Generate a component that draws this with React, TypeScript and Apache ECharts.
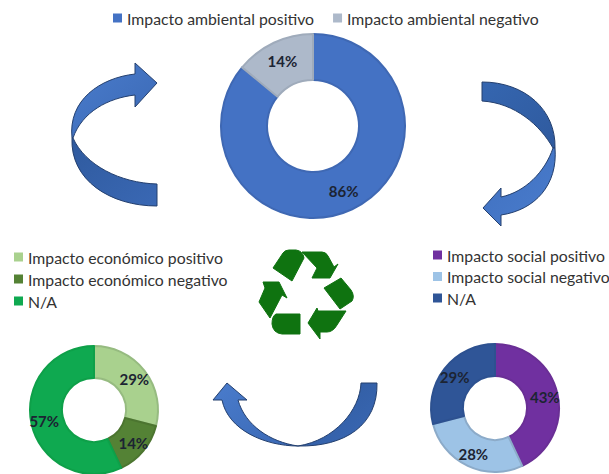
import React, { useEffect, useRef } from "react";
import * as echarts from "echarts";

const FONT = "Lato, sans-serif";

const envNames = ["Impacto ambiental positivo", "Impacto ambiental negativo"];
const envValues = [86, 14];
const envColors = ["#4472c4", "#adb9ca"];
const envEdges = ["#3f68b3", "#9fabbb"];

const ecoNames = ["Impacto económico positivo", "Impacto económico negativo", "N/A"];
const ecoValues = [29, 14, 57];
const ecoColors = ["#a9d18e", "#548235", "#0fa950"];
const ecoEdges = ["#96bb80", "#4c7530", "#0ea049"];

const socNames = ["Impacto social positivo", "Impacto social negativo", "N/A"];
const socValues = [43, 28, 29];
const socColors = ["#7030a0", "#9dc3e6", "#2f5597"];
const socEdges = ["#6a2f95", "#8cabc9", "#2d5190"];

const ARROWS: [string, string, string, string][] = [
  ["aL1", "M72,138 C68,100 100,78 135,74 L135,63 L157,83 L135,107 L135,95 C108,98 82,112 73,138 Z", "#4a7ccc", "#3a68b4"],
  ["aL2", "M73,138 C85,165 120,183 157,184 L157,206 C110,206 70,180 72,138 Z", "#2f5a9e", "#3a68b4"],
  ["aR1", "M482,82 C525,82 556,110 555,148 L553,148 C540,125 515,103 482,101 Z", "#3566b0", "#2f5a9e"],
  ["aR2", "M553,148 C545,172 525,192 501,197 L501,188 L483,208 L501,226 L501,215 C535,210 558,185 555,148 Z", "#3f70c0", "#4a7ccc"],
  ["aB1", "M361,383 C360,410 335,440 298,446 C345,447 378,425 377,383 Z", "#2f5a9e", "#3a68b4"],
  ["aB2", "M298,446 C265,446 228,430 222,400 L213,400 L227,383 L247,400 L238,400 C245,425 270,442 298,446 Z", "#4a7ccc", "#3a68b4"],
];

const RECYCLE: [string, string][] = [
  ["r1", "M273,268 L283,253 Q285,250 289,250 L296,250 Q303,251 304,258 L292,281 Z"],
  ["r2", "M302,252 L322,252 Q326,252 328,256 L334,267 L338,264 L330,278 L312,278 L317,268 Z"],
  ["r3", "M324,288 L341,278 L351,290 Q355,296 352,301 L340,309 Z"],
  ["r4", "M317,308 L308,323 L320,339 L320,332 L327,332 Q333,332 337,325 L346,311 L318,311 Z"],
  ["r5", "M276,314 L300,314 L300,334 L282,334 Q273,333 272,324 Q272,316 276,314 Z"],
  ["r6", "M263,282 L279,282 L287,298 L282,295 L270,318 L259,302 L265,288 Z"],
];

[...ARROWS, ...RECYCLE].forEach((s) => {
  echarts.graphic.registerShape(s[0], echarts.graphic.extendPath(s[1], {}));
});

function pie(center: number[], radius: number[], names: string[], values: number[], colors: string[], edges: string[], id: string) {
  return {
    type: "pie",
    id,
    center,
    radius,
    startAngle: 90,
    clockwise: true,
    silent: true,
    avoidLabelOverlap: false,
    labelLine: { show: false },
    label: {
      show: true,
      position: "inside",
      formatter: "{c}%",
      fontFamily: FONT,
      fontSize: 15,
      fontWeight: 700,
      color: "#1c2433",
    },
    data: values.map((v, i) => ({
      name: names[i],
      value: v,
      itemStyle: { color: colors[i], borderColor: edges[i], borderWidth: 2 },
    })),
  };
}

function legend(names: string[], colors: string[], extra: object) {
  return {
    selectedMode: false,
    itemWidth: 9,
    itemHeight: 9,
    icon: "rect",
    padding: 0,
    textStyle: { fontFamily: FONT, fontSize: 15.8, lineHeight: 16, color: "#333" },
    data: names.map((n, i) => ({ name: n, itemStyle: { color: colors[i], borderWidth: 0 } })),
    ...extra,
  };
}

export default function App() {
  const ref = useRef<HTMLDivElement>(null);
  useEffect(() => {
    const chart = echarts.init(ref.current!, undefined, { renderer: "svg" });
    const linear = (a: string, b: string) => ({
      type: "linear",
      x: 0,
      y: 0,
      x2: 1,
      y2: 1,
      colorStops: [
        { offset: 0, color: a },
        { offset: 1, color: b },
      ],
    });
    chart.setOption({
      animation: false,
      backgroundColor: "#ffffff",
      legend: [
        legend(envNames, envColors, { left: 113, top: 10, orient: "horizontal", itemGap: 19 }),
        legend(ecoNames, ecoColors, { left: 14, top: 249, orient: "vertical", itemGap: 6 }),
        legend(socNames, socColors, { left: 433, top: 247, orient: "vertical", itemGap: 5.5 }),
      ],
      series: [
        pie([313, 126], [46, 92], envNames, envValues, envColors, envEdges, "env"),
        pie([94, 410], [32, 64], ecoNames, ecoValues, ecoColors, ecoEdges, "eco"),
        pie([495, 408], [32, 64], socNames, socValues, socColors, socEdges, "soc"),
      ],
      graphic: [
        ...ARROWS.map((a) => ({
          type: a[0],
          x: 0,
          y: 0,
          silent: true,
          style: { fill: linear(a[2], a[3]), stroke: "#24406f", lineWidth: 1 },
        })),
        ...RECYCLE.map((r) => ({
          type: r[0],
          x: 0,
          y: 0,
          silent: true,
          style: { fill: "#0f7310", stroke: "#0f7310", lineWidth: 1, lineJoin: "round" },
        })),
      ],
    });
    return () => chart.dispose();
  }, []);
  return <div ref={ref} style={{ position: "absolute", left: 0, top: 0, width: 609, height: 474 }} />;
}
